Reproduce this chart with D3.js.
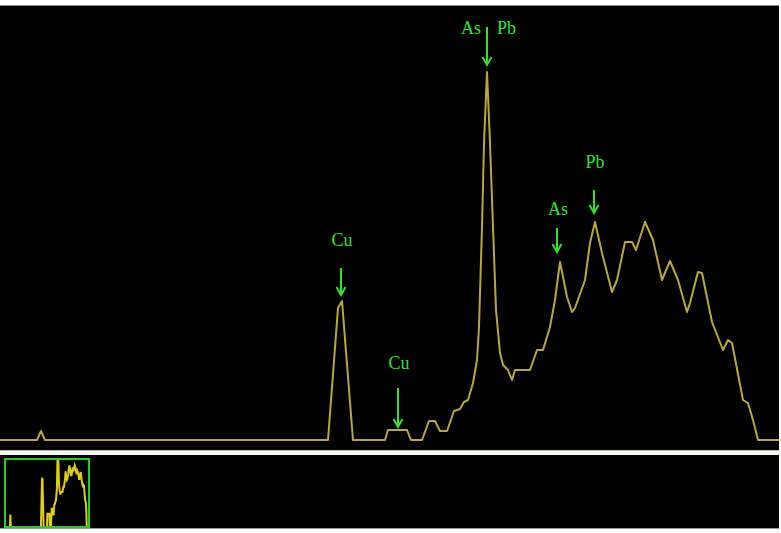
<!DOCTYPE html>
<html>
<head>
<meta charset="utf-8">
<script src="https://cdn.jsdelivr.net/npm/d3@7"></script>
<style>
  html, body { margin: 0; padding: 0; background: #ffffff; }
  svg { display: block; }
</style>
</head>
<body>
<div id="chart"></div>
<script>
// ---- Data (spectrum: channel vs counts) ----
const channels = [0, 37, 41, 45, 328, 338, 342, 353, 385, 388, 407, 411, 422, 429, 435, 440, 447, 454, 460, 464, 468,
  473, 477, 479, 482, 484, 487, 490, 493, 496, 500, 503, 508, 512, 515, 530, 537, 543, 550, 555, 560, 567, 572, 575,
  585, 590, 595, 602, 612, 617, 625, 632, 636, 645, 653, 662, 670, 678, 687, 690, 698, 702, 712, 723, 728, 732, 743,
  748, 753, 758, 779];
const counts = [0, 0, 9, 0, 0, 132, 139, 0, 0, 10, 10, 0, 0, 19, 19, 9, 9, 29, 31, 38, 40,
  57, 80, 113, 213, 297, 368, 297, 213, 130, 87, 75, 70, 60, 70, 70, 90, 90, 113, 140, 178, 143, 128, 132,
  160, 197, 218, 187, 148, 160, 198, 198, 190, 218, 200, 160, 179, 160, 128, 137, 168, 167, 118, 90, 100, 97, 40,
  37, 20, 0, 0];

// ---- Peak annotations (data coordinates) ----
const annLabels   = ["Cu", "Cu", "As|Pb", "As", "Pb"];
const annChannel  = [341, 398, 487, 557, 594];
const annTip      = [145, 13, 375, 188, 227];
const annTail     = [172, 52, 413, 212, 250];
const annText     = [194, 71, 406, 225, 272];

const W = 781, H = 533;
const svg = d3.select("#chart").append("svg").attr("width", W).attr("height", H);

// frame pieces
svg.append("rect").attr("x", 0).attr("y", 0).attr("width", W).attr("height", H).attr("fill", "#ffffff");
svg.append("rect").attr("x", 0).attr("y", 5).attr("width", 779).attr("height", 1).attr("fill", "#8a8a8a");
svg.append("rect").attr("x", 0).attr("y", 6).attr("width", 779).attr("height", 444).attr("fill", "#000000");
svg.append("rect").attr("x", 0).attr("y", 450).attr("width", 779).attr("height", 1).attr("fill", "#b8b8b0");
svg.append("rect").attr("x", 0).attr("y", 451).attr("width", 779).attr("height", 4).attr("fill", "#f6f6ee");
svg.append("rect").attr("x", 0).attr("y", 455).attr("width", 779).attr("height", 73).attr("fill", "#000000");
svg.append("rect").attr("x", 0).attr("y", 528).attr("width", 779).attr("height", 1).attr("fill", "#9a9a9a");

// ---- Main spectrum ----
const x = d3.scaleLinear().domain([0, 779]).range([0, 779]);
const y = d3.scaleLinear().domain([0, 434]).range([440, 6]);
const pts = channels.map((c, i) => [c, counts[i]]);

const line = d3.line().x(d => x(d[0])).y(d => y(d[1])).curve(d3.curveLinear);
svg.append("path").datum(pts)
  .attr("d", line)
  .attr("fill", "none")
  .attr("stroke", "#b8a838")
  .attr("stroke-width", 2)
  .attr("stroke-linejoin", "round");

// ---- Annotations ----
const green = "#2ee42e";
const font = "'Liberation Serif', 'Times New Roman', serif";
const fs = 18;
const ann = svg.append("g");
annLabels.forEach((lab, i) => {
  const ax = x(annChannel[i]);
  const tipY = y(annTip[i]);
  const tailY = y(annTail[i]);
  ann.append("line").attr("x1", ax).attr("x2", ax).attr("y1", tailY).attr("y2", tipY - 1)
    .attr("stroke", green).attr("stroke-width", 2);
  ann.append("path")
    .attr("d", `M${ax - 4.5},${tipY - 8} L${ax},${tipY} L${ax + 4.5},${tipY - 8}`)
    .attr("fill", "none").attr("stroke", green).attr("stroke-width", 2);
  const ty = y(annText[i]);
  if (lab.indexOf("|") >= 0) {
    const parts = lab.split("|");
    ann.append("text").attr("x", ax - 6).attr("y", ty).attr("text-anchor", "end")
      .attr("fill", green).attr("font-family", font).attr("font-size", fs).text(parts[0]);
    ann.append("text").attr("x", ax + 10).attr("y", ty).attr("text-anchor", "start")
      .attr("fill", green).attr("font-family", font).attr("font-size", fs).text(parts[1]);
  } else {
    ann.append("text").attr("x", ax + 1).attr("y", ty).attr("text-anchor", "middle")
      .attr("fill", green).attr("font-family", font).attr("font-size", fs).text(lab);
  }
});

// ---- Overview thumbnail ----
const mx = d3.scaleLinear().domain([0, 779]).range([6, 89]);
const my = d3.scaleSqrt().domain([0, 265]).range([527, 459]).clamp(true);
const mline = d3.line().x(d => mx(d[0])).y(d => my(d[1]));
svg.append("path").datum(pts)
  .attr("d", mline)
  .attr("fill", "none")
  .attr("stroke", "#e0cf10")
  .attr("stroke-width", 2);
svg.append("rect").attr("x", 5).attr("y", 459).attr("width", 84).attr("height", 68)
  .attr("fill", "none").attr("stroke", "#22cc22").attr("stroke-width", 2);
</script>
</body>
</html>
